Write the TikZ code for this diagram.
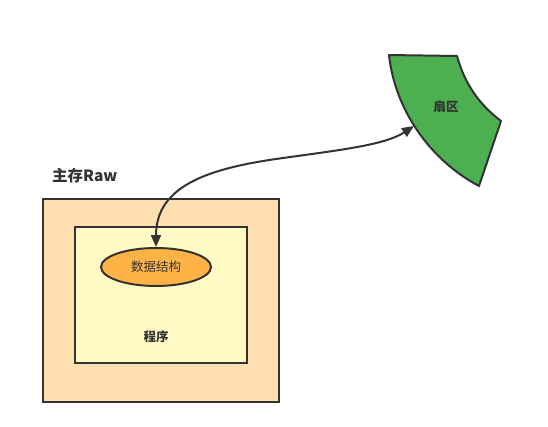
\documentclass[tikz,border=0pt]{standalone}
\usepackage{fontspec}
\setmainfont{Noto Sans CJK SC}
\usetikzlibrary{shapes.geometric,arrows.meta}
\definecolor{edge}{HTML}{333333}
\definecolor{mem}{HTML}{FFDFB0}
\definecolor{prog}{HTML}{FFF9C4}
\definecolor{ds}{HTML}{FFB347}
\definecolor{sec}{HTML}{4CAF50}
\tikzset{
  boxstyle/.style={draw=edge, line width=2pt},
  lbl/.style={text=edge, font=\bfseries\fontsize{12.5}{14}\selectfont, inner sep=0pt},
  conn/.style={draw=edge, line width=2pt, {Triangle[length=12pt,width=10pt]}-{Triangle[length=12pt,width=10pt]}}
}
\begin{document}
\begin{tikzpicture}[x=1pt,y=-1pt]
\useasboundingbox (0,0) rectangle (548,426);
% main memory
\node[boxstyle, fill=mem, minimum width=236pt, minimum height=203pt, inner sep=0pt, anchor=north west] (mem) at (42,198) {};
\node[lbl, font=\bfseries\fontsize{15.5}{18}\selectfont, anchor=west] (memlbl) at (52,176) {主存Raw};
% program
\node[boxstyle, fill=prog, minimum width=172pt, minimum height=136pt, inner sep=0pt, anchor=north west] (prog) at (74,226) {};
\node[lbl] (proglbl) at (156,337) {程序};
% data structure
\node[ellipse, boxstyle, fill=ds, minimum width=110pt, minimum height=38pt, inner sep=0pt, text=edge, font=\fontsize{12.5}{14}\selectfont] (ds) at (156,267) {数据结构};
% sector
\path[boxstyle, fill=sec, line join=round] (389,55) -- (457,56) .. controls (465,85) and (480,105) .. (501,121) -- (479,186) .. controls (430,160) and (395,110) .. (389,55) -- cycle;
\node[lbl] (seclbl) at (446,107) {扇区};
\coordinate (secin) at (414,126);
% connector
\draw[conn] (ds.north) .. controls (156,185) and (210,168) .. (283,158) .. controls (340,150) and (385,145) .. (secin);
\end{tikzpicture}
\end{document}
